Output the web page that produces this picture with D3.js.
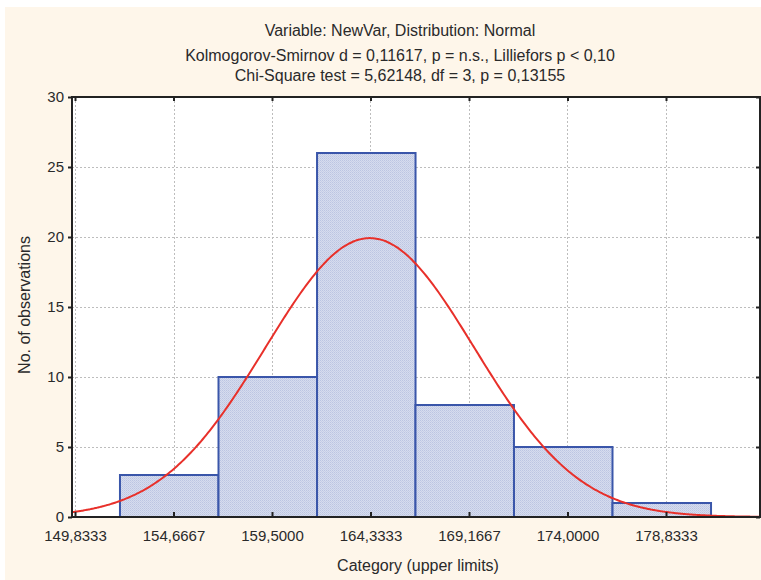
<!DOCTYPE html>
<html><head><meta charset="utf-8">
<script src="https://cdn.jsdelivr.net/npm/d3@7"></script>
<style>
html,body{margin:0;padding:0;background:#fff;}
svg{display:block;font-family:"Liberation Sans",Arial,sans-serif;}
</style></head>
<body>
<script>
// ---- data ----
const titleLines = [
  "Variable: NewVar, Distribution: Normal",
  "Kolmogorov-Smirnov d = 0,11617, p = n.s., Lilliefors p < 0,10",
  "Chi-Square test = 5,62148, df = 3, p = 0,13155"
];
const xTickValues = [149.8333, 154.6667, 159.5, 164.3333, 169.1667, 174.0, 178.8333];
const xTickLabels = ["149,8333","154,6667","159,5000","164,3333","169,1667","174,0000","178,8333"];
const yTickValues = [0, 5, 10, 15, 20, 25, 30];
const binStarts = [152.04, 156.875, 161.71, 166.54, 171.375, 176.21];
const binCounts = [3, 10, 26, 8, 5, 1];
const binWidth = 4.8333;
const fitMean = 164.3;
const fitSd = 5.13;
const xLabel = "Category (upper limits)";
const yLabel = "No. of observations";

// ---- layout ----
const W = 761, H = 580;
const plot = {left: 72, right: 760, top: 97, bottom: 517};
const textColor = "#2a2a2a";

const svg = d3.select("body").append("svg").attr("width", W).attr("height", H);
svg.append("rect").attr("x", 5).attr("y", 7).attr("width", W - 5).attr("height", H - 7).attr("fill", "#fef6ea");

const x = d3.scaleLinear().domain([149.686, 183.446]).range([plot.left, plot.right]);
const y = d3.scaleLinear().domain([0, 30]).range([plot.bottom, plot.top]);

const defs = svg.append("defs");
const pat = defs.append("pattern").attr("id", "hatch").attr("patternUnits", "userSpaceOnUse")
  .attr("width", 2).attr("height", 2);
pat.append("rect").attr("width", 2).attr("height", 2).attr("fill", "#d6dcee");
pat.append("rect").attr("width", 1).attr("height", 1).attr("fill", "#bcc5e2");
pat.append("rect").attr("x", 1).attr("y", 1).attr("width", 1).attr("height", 1).attr("fill", "#c6cee7");

// plot background
svg.append("rect").attr("x", plot.left).attr("y", plot.top)
  .attr("width", plot.right - plot.left).attr("height", plot.bottom - plot.top).attr("fill", "#fff");

// gridlines
const grid = svg.append("g").attr("stroke", "#bdbdbd").attr("stroke-width", 1).attr("stroke-dasharray", "2,2");
grid.selectAll(".gx").data(xTickValues).join("line")
  .attr("x1", d => Math.round(x(d)) + 0.5).attr("x2", d => Math.round(x(d)) + 0.5)
  .attr("y1", plot.top).attr("y2", plot.bottom);
grid.selectAll(".gy").data(yTickValues.filter(v => v > 0 && v < 30)).join("line")
  .attr("y1", d => Math.round(y(d)) + 0.5).attr("y2", d => Math.round(y(d)) + 0.5)
  .attr("x1", plot.left).attr("x2", plot.right);

// bars
svg.append("g").selectAll("rect").data(binCounts).join("rect")
  .attr("x", (d, i) => x(binStarts[i]))
  .attr("width", (d, i) => x(binStarts[i] + binWidth) - x(binStarts[i]))
  .attr("y", d => y(d))
  .attr("height", d => y(0) - y(d))
  .attr("fill", "url(#hatch)")
  .attr("stroke", "#3a56aa").attr("stroke-width", 2);

// normal fit curve
const total = d3.sum(binCounts);
const xs = d3.range(0, 401).map(i => x.domain()[0] + (x.domain()[1] - x.domain()[0]) * i / 400);
const fit = xs.map(v => [v, total * binWidth / (fitSd * Math.sqrt(2 * Math.PI)) * Math.exp(-0.5 * Math.pow((v - fitMean) / fitSd, 2))]);
svg.append("path").datum(fit)
  .attr("d", d3.line().x(d => x(d[0])).y(d => y(d[1])).curve(d3.curveMonotoneX))
  .attr("fill", "none").attr("stroke", "#e8302a").attr("stroke-width", 2);

// axes
const axisColor = "#222";
const xb = svg.append("g").attr("transform", `translate(0,${plot.bottom})`)
  .call(d3.axisBottom(x).tickValues(xTickValues).tickFormat((d, i) => xTickLabels[i]).tickSizeInner(-5).tickSizeOuter(0).tickPadding(13));
const xt = svg.append("g").attr("transform", `translate(0,${plot.top})`)
  .call(d3.axisTop(x).tickValues(xTickValues).tickFormat("").tickSizeInner(-4).tickSizeOuter(0));
const yl = svg.append("g").attr("transform", `translate(${plot.left},0)`)
  .call(d3.axisLeft(y).tickValues(yTickValues).tickSizeInner(4).tickSizeOuter(0).tickPadding(4));
const yr = svg.append("g").attr("transform", `translate(${plot.right},0)`)
  .call(d3.axisRight(y).tickValues(yTickValues).tickFormat("").tickSizeInner(-4).tickSizeOuter(0));
[xb, xt, yl, yr].forEach(g => {
  g.select(".domain").remove();
  g.selectAll(".tick line").attr("stroke", axisColor).attr("stroke-width", 2);
  g.selectAll(".tick text").attr("fill", textColor).style("font-size", "15px").style("font-family", "'Liberation Sans',Arial,sans-serif");
});

// frame
svg.append("rect").attr("x", plot.left).attr("y", plot.top)
  .attr("width", plot.right - plot.left).attr("height", plot.bottom - plot.top)
  .attr("fill", "none").attr("stroke", axisColor).attr("stroke-width", 2);

// titles
svg.append("g").selectAll("text").data(titleLines).join("text")
  .attr("x", 400).attr("y", (d, i) => [36, 61, 81][i])
  .attr("text-anchor", "middle").attr("fill", textColor).style("font-size", "16px")
  .text(d => d);

svg.append("text").attr("x", (plot.left + plot.right) / 2 + 2).attr("y", 571)
  .attr("text-anchor", "middle").attr("fill", textColor).style("font-size", "16px").text(xLabel);
svg.append("text").attr("transform", `translate(30,${(plot.top + plot.bottom) / 2 - 2}) rotate(-90)`)
  .attr("text-anchor", "middle").attr("fill", textColor).style("font-size", "16px").text(yLabel);
</script>
</body></html>
